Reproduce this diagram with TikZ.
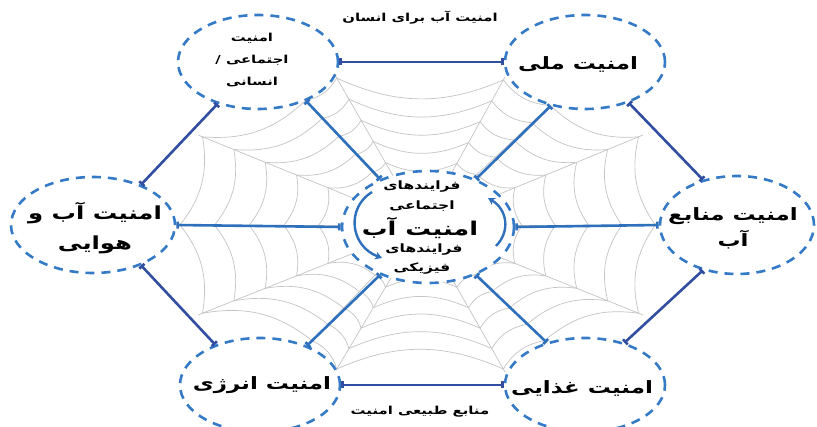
\documentclass[tikz,border=0pt]{standalone}
\usepackage{fontspec}
\newfontfamily\fa[Script=Arabic,FakeStretch=1.35]{DejaVu Sans}
\TeXXeTstate=1
\usetikzlibrary{shapes.geometric,arrows.meta,calc}
\definecolor{dashblue}{RGB}{52,122,198}
\definecolor{hexblue}{RGB}{50,78,160}
\definecolor{spokeblue}{RGB}{46,112,188}
\definecolor{webgray}{RGB}{196,196,196}
\newcommand{\rl}[1]{\beginR #1\endR}
\begin{document}
\begin{tikzpicture}[x=1pt,y=1pt,
  ring/.style={ellipse, draw=dashblue, fill=white, line width=2.6pt, dash pattern=on 9pt off 7pt,
    minimum width=160pt, minimum height=94pt, inner sep=0pt},
  ringtext/.style={align=center, inner sep=0pt, font=\fa\bfseries\fontsize{17}{26}\selectfont},
  hexedge/.style={draw=hexblue, line width=2.6pt, arrows={Bar[width=7pt]-Bar[width=7pt]}},
  spoke/.style={draw=spokeblue, line width=2.6pt, arrows={Bar[width=7pt]-Bar[width=7pt]}},
  web/.style={draw=webgray, line width=0.7pt},
  lbl/.style={font=\fa\bfseries\fontsize{11}{13}\selectfont, inner sep=1pt},
  clbl/.style={font=\fa\bfseries\fontsize{11.5}{14}\selectfont, inner sep=1pt},
  cycarrow/.style={draw=spokeblue, line width=2.4pt, -{Stealth[length=7pt,width=8pt]}}
]
\useasboundingbox (0,0) rectangle (817,426);
\fill[white] (0,0) rectangle (817,426);

% spider web
\coordinate (W) at (422,200);
\coordinate (R0) at (660,201);
\coordinate (R1) at (643,291);
\coordinate (R2) at (553,323);
\coordinate (R3) at (505,349);
\coordinate (R4) at (335,351);
\coordinate (R5) at (303,328);
\coordinate (R6) at (198,291);
\coordinate (R7) at (175,201);
\coordinate (R8) at (198,111);
\coordinate (R9) at (310,83);
\coordinate (R10) at (335,54);
\coordinate (R11) at (505,54);
\coordinate (R12) at (547,83);
\coordinate (R13) at (643,111);
\foreach \i in {0,...,13} \draw[web] (W) -- (R\i);
\foreach \i [evaluate=\i as \j using {int(mod(\i+1,14))}] in {0,...,13} {
  \foreach \t in {0.42,0.56,0.70,0.84,0.98}
    \draw[web] ($(W)!\t!(R\i)$) to[bend left=24] ($(W)!\t!(R\j)$);
}

% circles
\node[ring] (c1) at (258,364) {};
\node[ring] (c2) at (585,364) {};
\node[ring, minimum width=164pt, minimum height=96pt] (c3) at (93,201) {};
\node[ring, minimum width=154pt, minimum height=98pt] (c4) at (737,201) {};
\node[ring] (c5) at (260,41) {};
\node[ring] (c6) at (585,41) {};

\node[ringtext, font=\fa\bfseries\fontsize{11}{22}\selectfont] (c1t) at (252,366) {\rl{امنیت}\\\rl{اجتماعی /}\\\rl{انسانی}};
\node[ringtext] (c2t) at (578,362) {\rl{امنیت ملی}};
\node[ringtext, font=\fa\bfseries\fontsize{18}{30}\selectfont] (c3t) at (95,198) {\rl{امنیت آب و}\\\rl{هوایی}};
\node[ringtext] (c4t) at (733,198) {\rl{امنیت منابع}\\\rl{آب}};
\node[ringtext] (c5t) at (262,41) {\rl{امنیت انرژی}};
\node[ringtext] (c6t) at (582,38) {\rl{امنیت غذایی}};

% centre
\node[ellipse, draw=dashblue, fill=white, line width=2.6pt, dash pattern=on 9pt off 8pt,
      minimum width=172pt, minimum height=112pt] (cc) at (428,199) {};

% hexagon
\draw[hexedge] (c1.east) -- (c2.west);
\draw[hexedge] (c1.226) -- (c3.40);
\draw[hexedge] (c2.-43) -- (c4.127);
\draw[hexedge] (c3.-40) -- (c5.138);
\draw[hexedge] (c4.-127) -- (c6.47);
\draw[hexedge] (c5.east) -- (c6.west);

% spokes
\draw[spoke] (c1.-39) -- (cc.135);
\draw[spoke] (c2.232) -- (cc.45);
\draw[spoke] (c3.east) -- (cc.west);
\draw[spoke] (c4.west) -- (cc.east);
\draw[spoke] (c5.40) -- (cc.-135);
\draw[spoke] (c6.132) -- (cc.-45);

% cycle arrows
\coordinate (la) at (372,234);
\coordinate (lb) at (382,168);
\coordinate (ra) at (496,180);
\coordinate (rb) at (488,228);
\draw[cycarrow] (la) .. controls (346,218) and (350,180) .. (lb);
\draw[cycarrow] (ra) .. controls (510,194) and (508,216) .. (rb);

% centre texts
\node[clbl] (t1) at (422,239) {\rl{فرایندهای}};
\node[clbl] (t2) at (422,220) {\rl{اجتماعی}};
\node[font=\fa\bfseries\fontsize{19}{22}\selectfont, inner sep=1pt] (t3) at (420,198) {\rl{امنیت آب}};
\node[clbl] (t4) at (424,176) {\rl{فرایندهای}};
\node[clbl] (t5) at (422,157) {\rl{فیزیکی}};

% outer labels
\node[lbl] (top) at (420,408) {\rl{امنیت آب برای انسان}};
\node[lbl] (bot) at (420,14) {\rl{منابع طبیعی امنیت}};
\end{tikzpicture}
\end{document}
